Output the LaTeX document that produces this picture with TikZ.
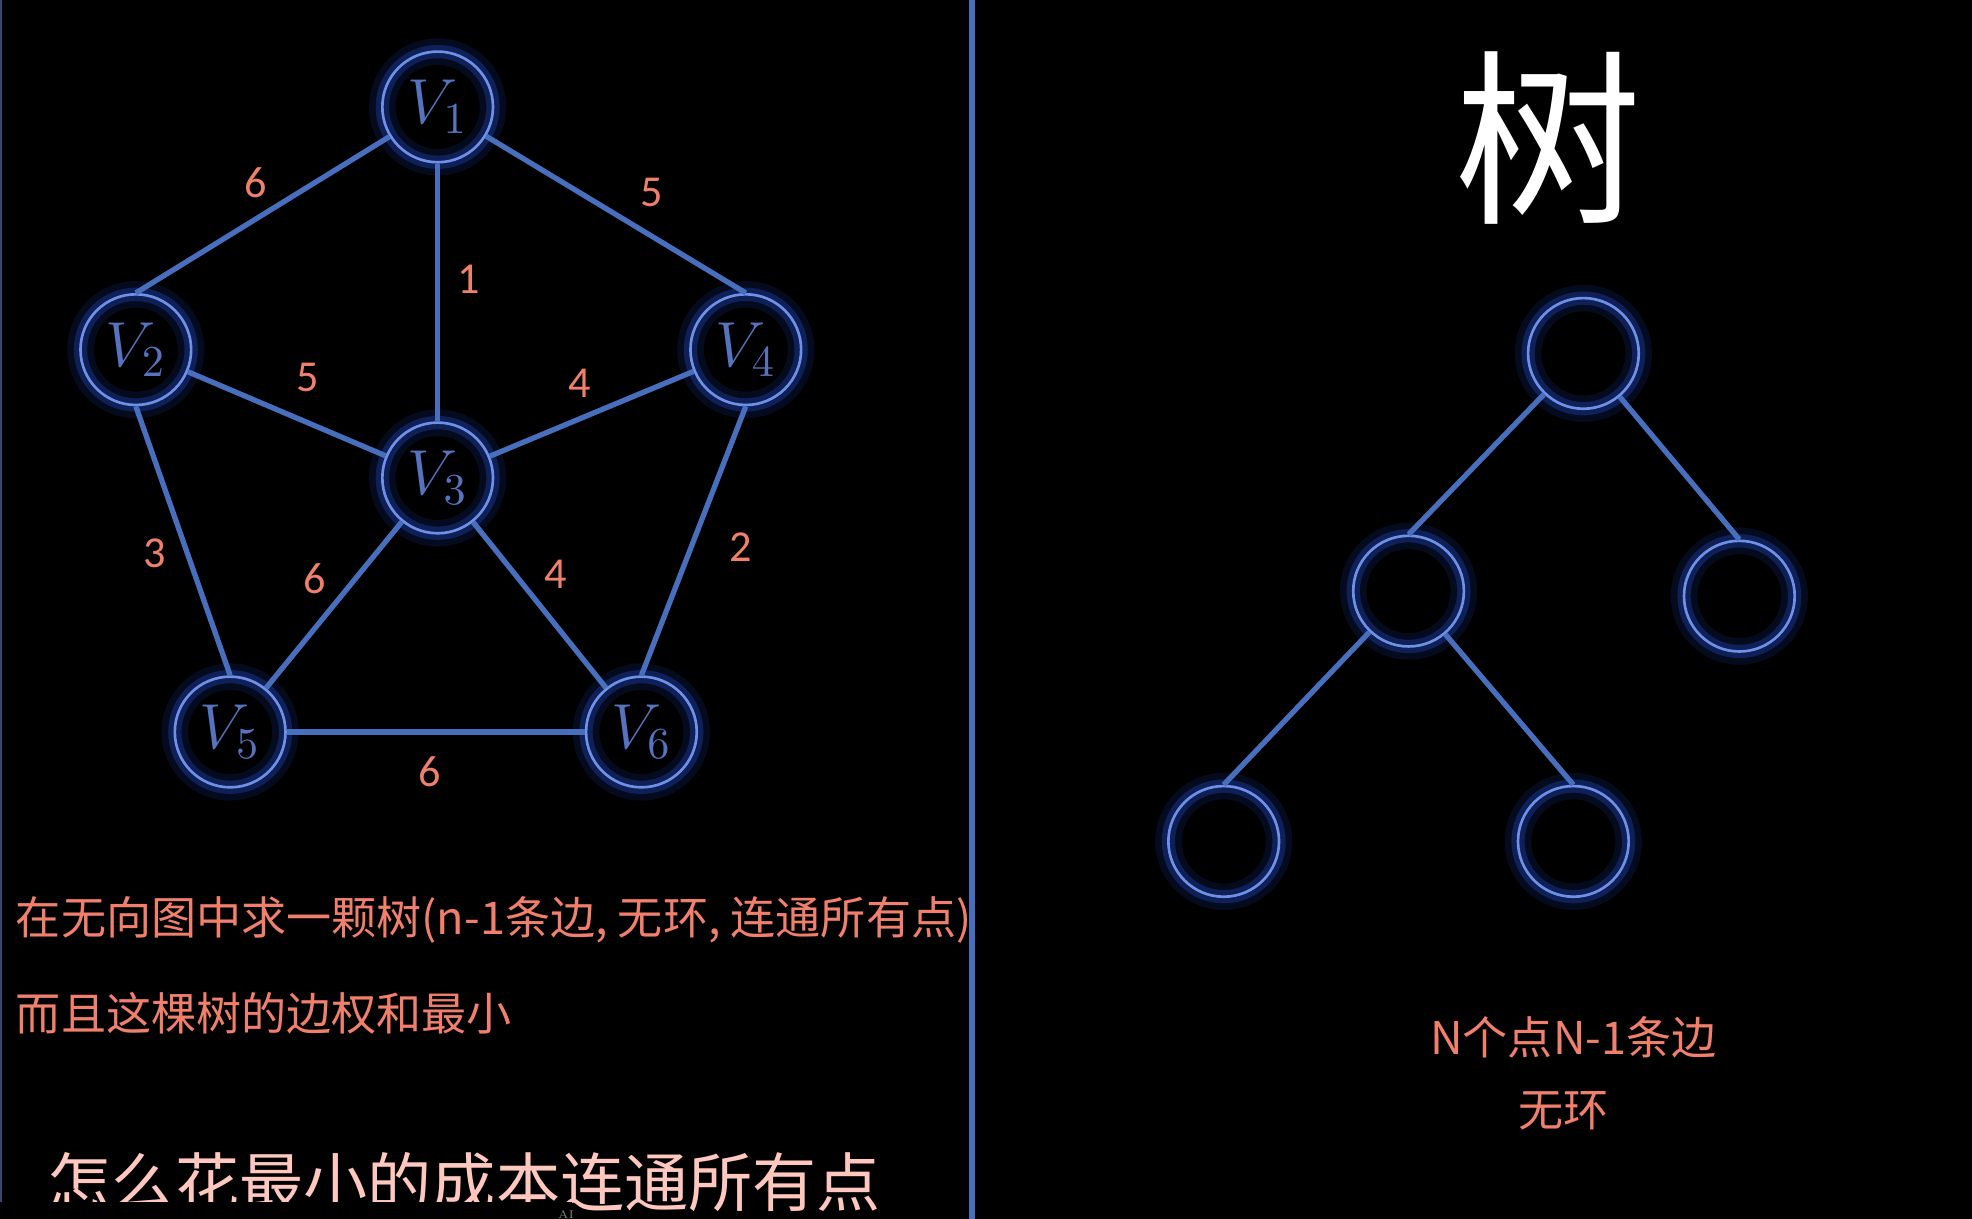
\documentclass[tikz,border=0pt]{standalone}
\usepackage{fontspec}
\usepackage{xcolor}
\usepackage{tikz}
\usetikzlibrary{positioning}
\newfontfamily\cjk{Noto Sans CJK SC}
\newfontfamily\calib{Carlito}
\definecolor{edgeblue}{HTML}{486EBE}
\definecolor{ringblue}{HTML}{6E91E6}
\definecolor{glowblue}{HTML}{2850DC}
\definecolor{vblue}{HTML}{5573BE}
\definecolor{labelred}{HTML}{F07F6C}
\definecolor{subpink}{HTML}{FFC8BE}
\definecolor{borderblue}{HTML}{3C466E}

\begin{document}
\begin{tikzpicture}[
  vertex/.style={circle, minimum size=0.88cm, inner sep=0pt,
    preaction={fill=black},
    preaction={draw=glowblue, line width=6pt, opacity=0.14},
    preaction={draw=glowblue, line width=3pt, opacity=0.3},
    draw=ringblue, line width=0.6pt, text=vblue, font=\fontsize{14.5}{14.5}\selectfont},
  link/.style={draw=edgeblue, line width=1.2pt},
  weight/.style={text=labelred, font=\calib\fontsize{10}{10}\selectfont, inner sep=0pt},
  note/.style={text=labelred, font=\cjk\fontsize{10.2}{12}\selectfont, inner sep=0pt}
]
% background and frame
\fill[black] (0,0) rectangle (15.68,-9.69);
\useasboundingbox (0,0) rectangle (15.68,-9.69);
\draw[borderblue, line width=0.5pt] (0.01,0) -- (0.01,-9.69);
\draw[edgeblue, line width=1.5pt] (7.73,0) -- (7.73,-9.69);

% weighted graph
\node[vertex] (v1) at (3.48,-0.85) {$V_1$};
\node[vertex] (v2) at (1.08,-2.78) {$V_2$};
\node[vertex] (v4) at (5.93,-2.78) {$V_4$};
\node[vertex] (v3) at (3.48,-3.80) {$V_3$};
\node[vertex] (v5) at (1.83,-5.82) {$V_5$};
\node[vertex] (v6) at (5.10,-5.82) {$V_6$};

\draw[link] (v1) -- (v2.north);
\draw[link] (v1) -- (v4.north);
\draw[link] (v1) -- (v3);
\draw[link] (v2) -- (v3);
\draw[link] (v3) -- (v4);
\draw[link] (v2.south) -- (v5.north);
\draw[link] (v3) -- (v5);
\draw[link] (v3) -- (v6);
\draw[link] (v4.south) -- (v6.north);
\draw[link] (v5) -- (v6);

\node[weight] (w12) at (2.03,-1.45) {6};
\node[weight] (w14) at (5.18,-1.53) {5};
\node[weight] (w13) at (3.73,-2.22) {1};
\node[weight] (w23) at (2.45,-3.00) {5};
\node[weight] (w34) at (4.61,-3.05) {4};
\node[weight] (w25) at (1.23,-4.40) {3};
\node[weight] (w35) at (2.50,-4.60) {6};
\node[weight] (w36) at (4.42,-4.57) {4};
\node[weight] (w46) at (5.89,-4.35) {2};
\node[weight] (w56) at (3.42,-6.14) {6};

% problem statement
\node[note, anchor=base west] (goal) at (0.12,-7.43)
  {在无向图中求一颗树(n-1条边, 无环, 连通所有点)};
\node[note, anchor=base west] (goal2) at (0.12,-8.19) {而且这棵树的边权和最小};

% subtitle, partly cut off at the bottom
\node[text=subpink, font=\cjk\fontsize{14.5}{16}\selectfont, inner sep=0pt, anchor=base west]
  (subtitle) at (0.37,-9.59) {怎么花最小的成本连通所有点};
\fill[black] (0,-9.555) rectangle (4.55,-9.69);
\node[text=gray, font=\fontsize{2.5}{3}\selectfont, inner sep=0pt] (mark) at (4.50,-9.655) {AI};

% tree example
\node[text=white, font=\cjk\fontsize{42.5}{44}\selectfont, inner sep=0pt] (title) at (12.31,-1.10) {树};

\node[vertex] (root) at (12.59,-2.81) {};
\node[vertex] (left) at (11.20,-4.70) {};
\node[vertex] (right) at (13.83,-4.74) {};
\node[vertex] (leftleft) at (9.73,-6.69) {};
\node[vertex] (leftright) at (12.51,-6.69) {};

\draw[link] (root) -- (left.north);
\draw[link] (root) -- (right.north);
\draw[link] (left) -- (leftleft.north);
\draw[link] (left) -- (leftright.north);

\node[note] (rule1) at (12.51,-8.25) {N个点N-1条边};
\node[note] (rule2) at (12.43,-8.83) {无环};
\end{tikzpicture}
\end{document}
